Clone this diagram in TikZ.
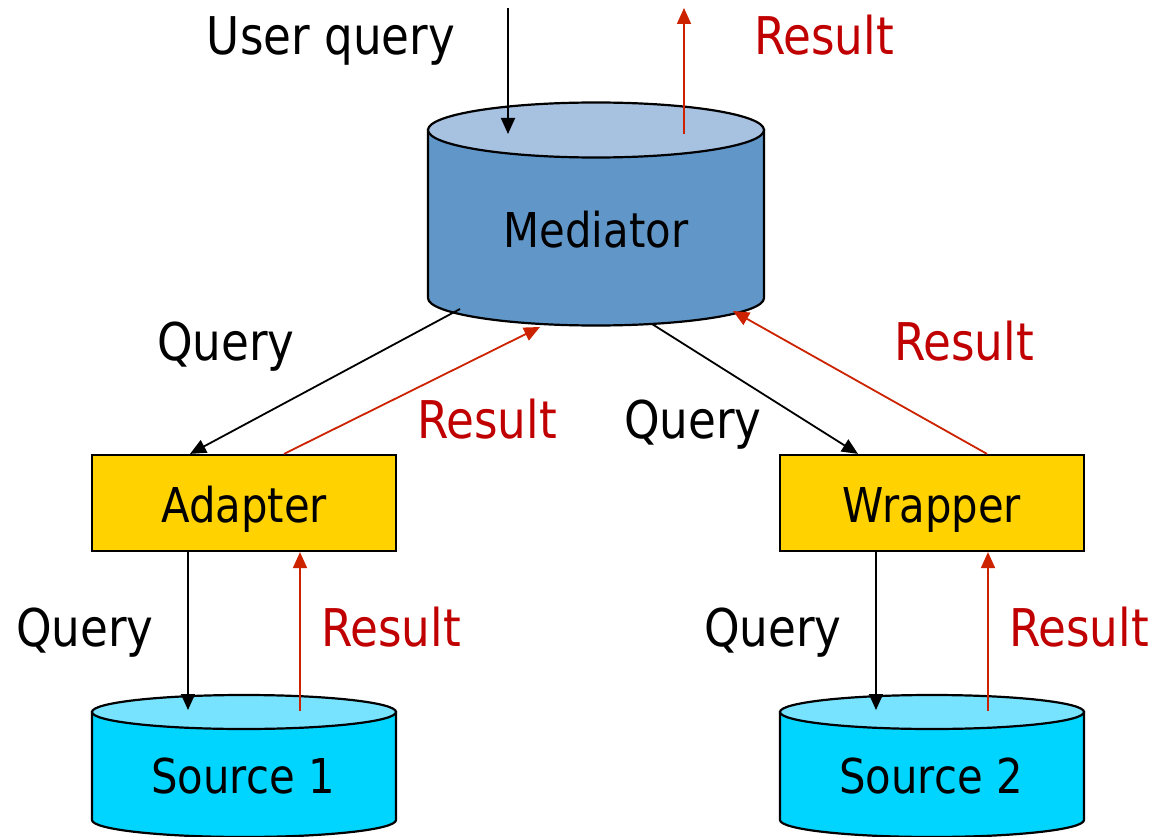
\documentclass[tikz,border=0pt]{standalone}
\usepackage{fontspec}
\setmainfont[FakeStretch=0.87]{DejaVu Sans}
\usetikzlibrary{arrows.meta,calc}

\definecolor{medtop}{RGB}{167,193,224}
\definecolor{medbody}{RGB}{96,150,200}
\definecolor{srctop}{RGB}{119,227,255}
\definecolor{srcbody}{RGB}{0,213,255}
\definecolor{boxgold}{RGB}{255,210,0}
\definecolor{restext}{RGB}{192,0,0}
\definecolor{resline}{RGB}{204,34,0}

% drum: centre x, top y, bottom y, half width, end half height, colour prefix
\newcommand\drawdrum[6]{%
  \filldraw[outline, fill=#6body] (#1-#4,#2) -- (#1-#4,#3)
     arc[start angle=180, end angle=360, x radius=#4pt, y radius=#5pt]
     -- (#1+#4,#2) -- cycle;
  \filldraw[outline, fill=#6top] (#1,#2) ellipse[x radius=#4pt, y radius=#5pt];
}

\begin{document}
\begin{tikzpicture}[x=1pt, y=-1pt,
  outline/.style={draw=black, line width=2.2pt},
  qarrow/.style={draw=black, line width=1.8pt, -{Triangle[length=16pt,width=14pt]}},
  rarrow/.style={draw=resline, line width=1.8pt, -{Triangle[length=16pt,width=14pt]}},
  lbl/.style={anchor=base, inner sep=0pt, font=\fontsize{52}{60}\selectfont},
  qlbl/.style={lbl, text=black},
  rlbl/.style={lbl, text=restext},
  partname/.style={anchor=base, inner sep=0pt, font=\fontsize{48}{56}\selectfont},
  compbox/.style={outline, fill=boxgold, minimum width=304pt, minimum height=96pt, inner sep=0pt}]

\useasboundingbox (0,0) rectangle (1157,837);

% storage drums
\drawdrum{596}{130}{298}{168}{27.5}{med}
\drawdrum{244}{712}{820}{152}{17}{src}
\drawdrum{932}{712}{820}{152}{17}{src}

% adapter / wrapper boxes
\node[compbox] (adapter) at (244,503) {};
\node[compbox] (wrapper) at (932,503) {};

% component names
\node[partname] (medname) at (596,248) {Mediator};
\node[partname] (adaptername) at (244,522) {Adapter};
\node[partname] (wrappername) at (932,522) {Wrapper};
\node[partname] (src1name) at (243,793) {Source 1};
\node[partname] (src2name) at (931,793) {Source 2};

% connector end points
\coordinate (uq-top) at (508,8);
\coordinate (med-in) at (508,134);
\coordinate (med-out) at (684,134);
\coordinate (res-top) at (684,8);
\coordinate (med-ql) at (460,309);
\coordinate (med-rl) at (540,327);
\coordinate (med-qr) at (652,324);
\coordinate (med-rr) at (733,311);
\coordinate (s1-in) at (188,710);
\coordinate (s1-out) at (300,711);
\coordinate (s2-in) at (876,710);
\coordinate (s2-out) at (988,711);

% user level
\draw[qarrow] (uq-top) -- (med-in);
\draw[rarrow] (med-out) -- (res-top);

% mediator <-> adapter / wrapper
\draw[qarrow] (med-ql) -- ([xshift=-54pt]adapter.north);
\draw[rarrow] ([xshift=40pt]adapter.north) -- (med-rl);
\draw[qarrow] (med-qr) -- ([xshift=-74pt]wrapper.north);
\draw[rarrow] ([xshift=55pt]wrapper.north) -- (med-rr);

% adapter / wrapper <-> sources
\draw[qarrow] ([xshift=-56pt]adapter.south) -- (s1-in);
\draw[rarrow] (s1-out) -- ([xshift=56pt]adapter.south);
\draw[qarrow] ([xshift=-56pt]wrapper.south) -- (s2-in);
\draw[rarrow] (s2-out) -- ([xshift=56pt]wrapper.south);

% labels
\node[qlbl] (l-uq) at (331,55) {User query};
\node[rlbl] (l-rtop) at (824,55) {Result};
\node[qlbl] (l-ql) at (226,360) {Query};
\node[rlbl] (l-rl) at (487,438) {Result};
\node[qlbl] (l-qr) at (693,438) {Query};
\node[rlbl] (l-rr) at (964,360) {Result};
\node[qlbl] (l-q1) at (85,646) {Query};
\node[rlbl] (l-r1) at (391,646) {Result};
\node[qlbl] (l-q2) at (773,646) {Query};
\node[rlbl] (l-r2) at (1079,646) {Result};
\end{tikzpicture}
\end{document}
